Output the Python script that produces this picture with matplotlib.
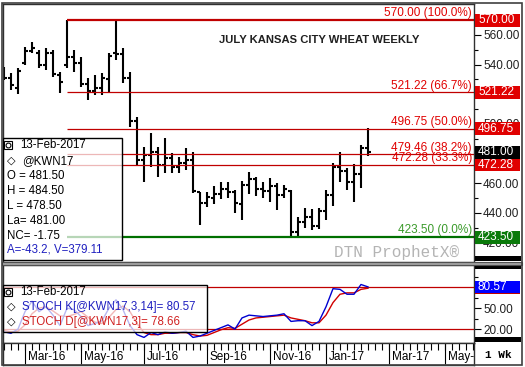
import numpy as np
import pandas as pd
import matplotlib
matplotlib.use('Agg')
import matplotlib.pyplot as plt
import matplotlib.dates as mdates
import matplotlib.transforms as mtrans
from matplotlib.patches import Rectangle
from matplotlib.lines import Line2D

plt.rcParams['font.family'] = ['Liberation Sans', 'DejaVu Sans']

# ─── weekly bars, July KC wheat, week of 15-Feb-2016 .. 13-Feb-2017 ───────────
first_week = '2016-02-15'
opens  = [536, 531, 524, 541, 549, 548, 540, 548, 533, 540, 545, 541, 527, 522,
          524, 530, 548, 547, 531, 502, 476, 479, 481, 472, 477, 471, 474, 476,
          454, 447, 450, 453, 456, 454, 446, 459, 463, 456, 455, 458, 452, 455,
          427, 434, 437, 431, 441, 452, 471, 468, 461, 466, 484]
highs  = [538.4, 534.4, 537.7, 551.9, 555.3, 549.9, 551.2, 549.9, 535.0, 570.0,
          549.9, 545.2, 531.0, 533.0, 534.4, 547.9, 569.5, 551.2, 535.0, 504.7,
          484.5, 493.9, 484.5, 490.5, 480.4, 477.7, 483.8, 481.1, 454.1, 454.1,
          458.2, 460.9, 460.9, 455.5, 461.6, 467.6, 464.2, 460.9, 463.6, 460.2,
          458.9, 455.5, 437.3, 443.3, 442.7, 443.3, 455.5, 473.7, 481.1, 470.3,
          473.0, 485.8, 497.5]
lows   = [529.7, 522.9, 520.2, 539.8, 547.9, 537.7, 536.4, 531.7, 520.9, 537.7,
          535.0, 524.9, 516.2, 519.5, 519.5, 521.6, 543.1, 527.6, 498.0, 472.3,
          460.9, 471.0, 464.2, 466.9, 466.9, 466.9, 468.9, 453.5, 431.9, 444.0,
          446.0, 449.4, 450.1, 440.0, 435.3, 452.8, 451.4, 450.1, 447.4, 442.0,
          450.1, 423.5, 424.5, 429.9, 428.5, 429.2, 435.3, 444.7, 460.9, 455.5,
          447.4, 456.8, 478.5]
closes = [531, 526, 536, 549, 551, 540, 548, 534, 528, 545, 541, 527, 522, 524,
          531, 546, 547, 531, 502, 476, 479, 481, 472, 477, 471, 474, 476, 455,
          447, 451, 453, 456, 454, 447, 459, 463, 456, 455, 458, 452, 456, 427,
          434, 437, 431, 441, 452, 471, 468, 461, 466, 484, 481]

stoch_k = [16, 14, 20, 45, 60, 45, 52, 40, 25, 50, 48, 38, 25, 28, 32, 50, 62,
           48, 25, 12, 8, 15, 12, 16, 14, 15, 17, 8, 10, 14, 18, 22, 26, 20, 36,
           40, 39, 38, 39, 40, 42, 31, 32, 32, 25, 31, 52, 78, 77, 70, 70, 84,
           80.57]
stoch_d = [18, 16, 17, 26, 42, 50, 52, 46, 39, 38, 41, 45, 37, 30, 28, 37, 48,
           53, 45, 28, 15, 12, 12, 14, 14, 15, 15, 12, 10, 11, 15, 19, 22, 21,
           27, 33, 36, 37, 38, 39, 40, 36, 34, 32, 29, 29, 40, 58, 70, 72, 72,
           77, 78.66]

fib_levels = [570.00, 521.22, 496.75, 479.46, 472.28, 423.50]
fib_pcts   = ['100.0%', '66.7%', '50.0%', '38.2%', '33.3%', '0.0%']
last_price = 481.00

legend_lines = ['O = 481.50', 'H = 484.50', 'L = 478.50', 'La= 481.00', 'NC= -1.75']

month_starts = ['2016-03-07', '2016-05-02', '2016-07-04', '2016-09-05',
                '2016-11-07', '2017-01-02', '2017-03-06', '2017-05-01']
month_labels = ['Mar-16', 'May-16', 'Jul-16', 'Sep-16', 'Nov-16', 'Jan-17',
                'Mar-17', 'May-17']

RED = '#c00000'
LRED = '#e00000'
GREEN = '#007000'

W, H = 525, 367
fig = plt.figure(figsize=(W / 100, H / 100), dpi=100)


def box(x0, y0, x1, y1):
    return [x0 / W, 1 - y1 / H, (x1 - x0) / W, (y1 - y0) / H]


def fx(x):
    return x / W


def fy(y):
    return 1 - y / H


def fig_rect(x0, y0, x1, y1, **kw):
    r = Rectangle((fx(x0), fy(y1)), (x1 - x0) / W, (y1 - y0) / H,
                  transform=fig.transFigure, **kw)
    fig.add_artist(r)


def icon(x, y):
    fig_rect(x, y, x + 8, y + 8, fc='white', ec='black', lw=0.8, zorder=6)
    fig.add_artist(Line2D([fx(x + 4)], [fy(y + 4)], marker='o', ms=3.5,
                          mfc='none', mec='black', mew=0.8,
                          transform=fig.transFigure, zorder=7))


ax = fig.add_axes(box(3, 4, 474, 262))
ax_st = fig.add_axes(box(3, 265, 474, 343))
ax_dt = fig.add_axes(box(3, 343, 474, 365))

weeks = pd.date_range(first_week, periods=len(highs), freq='7D')
xw = mdates.date2num(weeks)
x0 = mdates.date2num(pd.Timestamp('2016-02-14'))
x1 = x0 + 471
for a in (ax, ax_st, ax_dt):
    a.set_xlim(x0, x1)
    a.set_xticks([])
    for s in a.spines.values():
        s.set_color('#303030')
        s.set_linewidth(1)

# ─── price bars ───────────────────────────────────────────────────────────────
ax.vlines(xw, lows, highs, color='black', lw=1.5)
ax.hlines(opens, xw - 2.6, xw, color='black', lw=1.5)
ax.hlines(closes, xw, xw + 2.6, color='black', lw=1.5)

# fib retracement from the high week
hi_date = xw[int(np.argmax(highs))]
for lvl, pct in zip(fib_levels, fib_pcts):
    green = pct == '0.0%'
    thick = pct in ('100.0%', '0.0%')
    ax.hlines(lvl, hi_date, x1, color=GREEN if green else RED,
              lw=1.6 if thick else 0.9)
    ax.text(x1 - 2, lvl + 0.6, f'{lvl:.2f} ({pct})', ha='right', va='bottom',
            fontsize=8.5, color='#3a9a2a' if green else LRED)

ax.set_ylim(406.9, 580.9)
ax.yaxis.tick_right()
maj = np.arange(420, 561, 20)
ax.set_yticks(maj)
# 480.00 and 520.00 sit fully under the value tags
ax.set_yticklabels(['' if v in (480, 520) else f'{v:.2f}' for v in maj])
ax.set_yticks(np.arange(410, 571, 10), minor=True)
ax.tick_params(axis='y', which='major', length=5, width=0.8, pad=1.5,
               labelsize=8.5, labelcolor='#202020')
ax.tick_params(axis='y', which='minor', length=3, width=0.8)

fig.text(fx(319.5), fy(40), 'JULY KANSAS CITY WHEAT WEEKLY', ha='center',
         va='center', fontsize=8.1, fontweight='bold', color='#202020')
fig.text(fx(397), fy(253), 'DTN ProphetX\u00ae', family='Liberation Mono',
         fontsize=11.5, color='#b4b4b4', ha='center', va='center')

# right-hand value boxes
tr = mtrans.blended_transform_factory(fig.transFigure, ax.transData)
tags = [(l, LRED if p != '0.0%' else '#0a7a0a')
        for l, p in zip(fib_levels, fib_pcts) if p != '38.2%']
tags.append((last_price, 'black'))
for lvl, col in tags:
    fig.add_artist(Rectangle((fx(475), lvl - 4.3), 45 / W, 8.6, transform=tr,
                             fc=col, ec='none', zorder=4))
    fig.text(fx(478), lvl, f'{lvl:.2f}', transform=tr, color='white',
             fontsize=8.5, va='center', zorder=5)

# quote box
fig_rect(3, 138, 122, 260, fc=(1, 1, 1, 0.72), ec='black', lw=1, zorder=2)
icon(4, 141)
fig.text(fx(20), fy(145), '13-Feb-2017', va='center', fontsize=8.3)
fig.text(fx(11), fy(161), '\u25c7', ha='center', va='center', fontsize=8,
         fontweight='bold')
fig.text(fx(22), fy(161), '@KWN17', va='center', fontsize=8.3)
for i, s in enumerate(legend_lines):
    fig.text(fx(7), fy(175.7 + 15 * i), s, va='center', fontsize=8.3)
fig.text(fx(7), fy(250), 'A=-43.2, V=379.11', va='center', fontsize=8.3,
         color='#2020c0')

# ─── stochastics panel ────────────────────────────────────────────────────────
ax_st.axhline(80, color=RED, lw=0.9)
ax_st.axhline(20, color=RED, lw=0.9)
ax_st.plot(xw, stoch_d, color='#d00000', lw=1)
ax_st.plot(xw, stoch_k, color='#0000d0', lw=1)
ax_st.set_ylim(0, 112)
ax_st.yaxis.tick_right()
ax_st.set_yticks([20, 50, 80])
ax_st.set_yticklabels(['20.00', '50.00', ''])
ax_st.set_yticks([35, 65, 95], minor=True)
ax_st.tick_params(axis='y', which='major', length=5, width=0.8, pad=1.5,
                  labelsize=8.5, labelcolor='#202020')
ax_st.tick_params(axis='y', which='minor', length=3, width=0.8)

tr2 = mtrans.blended_transform_factory(fig.transFigure, ax_st.transData)
for val, col in [(stoch_d[-1], '#c00000'), (stoch_k[-1], '#0000ff')]:
    fig.add_artist(Rectangle((fx(475), val - 8.6), 45 / W, 17.2, transform=tr2,
                             fc=col, ec='none', zorder=4))
fig.text(fx(478), stoch_k[-1], f'{stoch_k[-1]:.2f}', transform=tr2,
         color='white', fontsize=8.5, va='center', zorder=5)

fig_rect(3, 285, 207, 332, fc=(1, 1, 1, 0.72), ec='black', lw=1, zorder=2)
icon(4, 287.5)
fig.text(fx(20), fy(291.7), '13-Feb-2017', va='center', fontsize=8.3)
for y, s, col in [(307, f'STOCH K[@KWN17,3,14]= {stoch_k[-1]:.2f}', '#2020c0'),
                  (322, f'STOCH D[@KWN17,3]= {stoch_d[-1]:.2f}', '#d02020')]:
    fig.text(fx(11), fy(y), '\u25c7', ha='center', va='center', fontsize=8,
             fontweight='bold')
    fig.text(fx(22), fy(y), s, va='center', fontsize=8.3, color=col)

# ─── date strip ───────────────────────────────────────────────────────────────
ax_dt.set_ylim(0, 1)
ax_dt.set_yticks([])
tick_weeks = mdates.date2num(pd.date_range(first_week, '2017-05-29', freq='7D'))
ax_dt.vlines(tick_weeks, 0.68, 1, color='black', lw=0.8)
seps = mdates.date2num(pd.to_datetime(month_starts))
ax_dt.vlines(seps, 0.05, 1, color='black', lw=0.8)
for s, lab in zip(seps, month_labels):
    ax_dt.text(s + 3, 0.36, lab, va='center', fontsize=8.5, clip_on=True)

fig.text(fx(498), fy(355), '1 Wk', family='Liberation Mono', fontweight='bold',
         fontsize=8, ha='center', va='center')

# ─── frame pieces ─────────────────────────────────────────────────────────────
fig_rect(475, 256, 521, 261, fc='black', ec='none', zorder=4)
fig_rect(475, 266, 521, 269, fc='black', ec='none', zorder=4)
fig_rect(475, 337, 521, 342, fc='black', ec='none', zorder=4)
fig_rect(2, 262, 522, 265, fc='#a0a0a0', ec='#505050', lw=0.8, zorder=4)
fig_rect(2, 3, 522, 365, fc='none', ec='#404040', lw=1.2, zorder=8)

fig.savefig('out.png', dpi=100)
